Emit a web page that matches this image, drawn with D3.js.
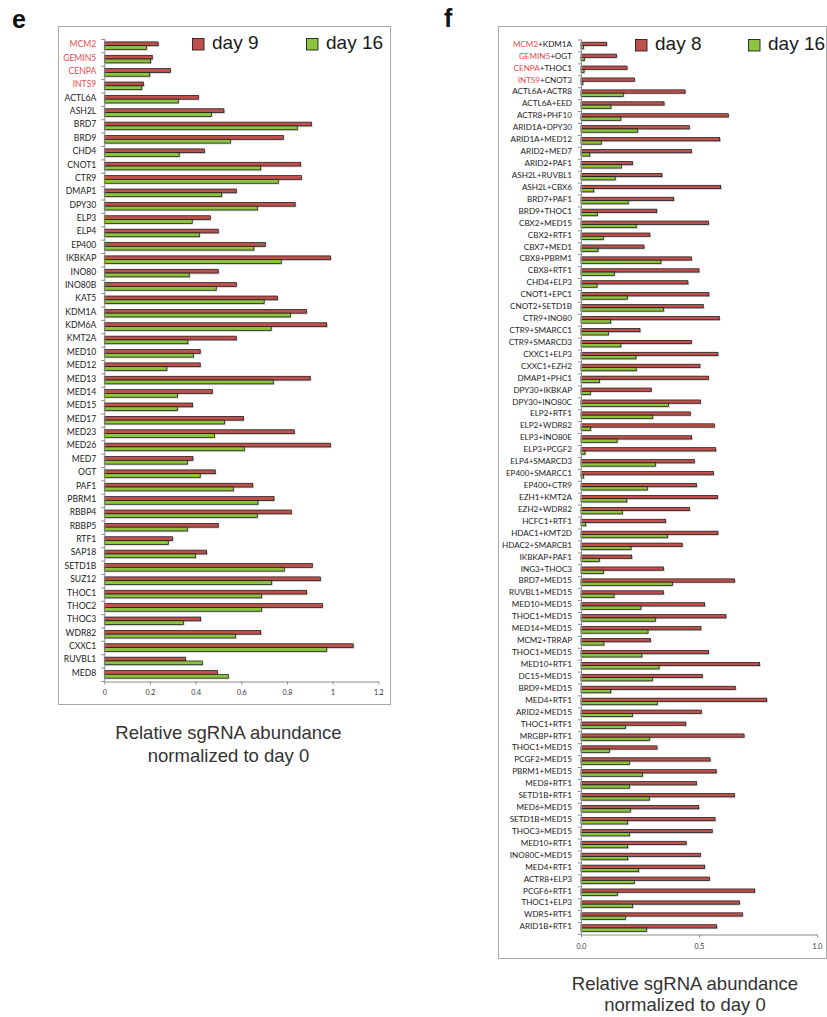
<!DOCTYPE html>
<html>
<head>
<meta charset="utf-8">
<script src="https://cdn.jsdelivr.net/npm/d3@7/dist/d3.min.js"></script>
<style>
  body { margin: 0; background: #fff; }
  svg { display: block; }
</style>
</head>
<body>
<svg id="chart" width="827" height="1017"></svg>
<script>
// ---- Panel e: single-gene knockouts ----
const eGenes = ["MCM2","GEMIN5","CENPA","INTS9","ACTL6A","ASH2L","BRD7","BRD9","CHD4","CNOT1","CTR9","DMAP1",
  "DPY30","ELP3","ELP4","EP400","IKBKAP","INO80","INO80B","KAT5","KDM1A","KDM6A","KMT2A","MED10","MED12",
  "MED13","MED14","MED15","MED17","MED23","MED26","MED7","OGT","PAF1","PBRM1","RBBP4","RBBP5","RTF1",
  "SAP18","SETD1B","SUZ12","THOC1","THOC2","THOC3","WDR82","CXXC1","RUVBL1","MED8"];
const eDay9 = [0.236,0.21,0.289,0.172,0.412,0.524,0.907,0.784,0.438,0.86,0.863,0.578,
  0.836,0.464,0.499,0.705,0.991,0.499,0.578,0.758,0.885,0.974,0.578,0.42,0.42,
  0.902,0.473,0.387,0.61,0.832,0.99,0.388,0.486,0.65,0.743,0.819,0.499,0.299,
  0.448,0.911,0.946,0.886,0.955,0.422,0.685,1.09,0.355,0.495];
const eDay16 = [0.185,0.203,0.199,0.164,0.324,0.469,0.845,0.552,0.328,0.685,0.762,0.514,
  0.67,0.385,0.416,0.655,0.775,0.372,0.49,0.70,0.815,0.731,0.366,0.39,0.274,
  0.74,0.32,0.32,0.526,0.482,0.613,0.364,0.42,0.565,0.673,0.67,0.364,0.28,
  0.399,0.788,0.733,0.689,0.688,0.346,0.574,0.974,0.429,0.543];
const eSeries = ["day 9", "day 16"];
const eTicks = [0, 0.2, 0.4, 0.6, 0.8, 1, 1.2];

// ---- Panel f: double-gene knockouts ----
const fPairs = ["MCM2+KDM1A","GEMIN5+OGT","CENPA+THOC1","INTS9+CNOT3","ACTL6A+ACTR8","ACTL6A+EED","ACTR8+PHF10",
  "ARID1A+DPY30","ARID1A+MED12","ARID2+MED7","ARID2+PAF1","ASH2L+RUVBL1",
  "ASH2L+CBX6","BRD7+PAF1","BRD9+THOC1","CBX2+MED15","CBX2+RTF1","CBX7+MED1","CBX8+PBRM1","CBX8+RTF1",
  "CHD4+ELP3","CNOT1+EPC1","CNOT2+SETD1B","CTR9+INO80","CTR9+SMARCC1","CTR9+SMARCD3",
  "CXXC1+ELP3","CXXC1+EZH2","DMAP1+PHC1","DPY30+IKBKAP","DPY30+INO80C","ELP2+RTF1","ELP2+WDR82",
  "ELP3+INO80E","ELP3+PCGF2","ELP4+SMARCD3","EP400+SMARCC1","EP400+CTR9","EZH1+KMT2A","EZH2+WDR82",
  "HCFC1+RTF1","HDAC1+KMT2D","HDAC2+SMARCB1","IKBKAP+PAF1","ING3+THOC3","BRD7+MED15","RUVBL1+MED15",
  "MED10+MED15","THOC1+MED15","MED14+MED15","MCM2+TRRAP","THOC1+MED15","MED10+RTF1","DC15+MED15",
  "BRD9+MED15","MED4+RTF1","ARID2+MED15","THOC1+RTF1","MRGBP+RTF1","THOC1+MED15","PCGF2+MED15",
  "PBRM1+MED15","MED8+RTF1","SETD1B+RTF1","MED6+MED15","SETD1B+MED15","THOC3+MED15","MED10+RTF1",
  "INO80C+MED15","MED4+RTF1","ACTR8+ELP3","PCGF6+RTF1","THOC1+ELP3","WDR5+RTF1","ARID1B+RTF1"];
const fDay8 = [0.109,0.15,0.195,0.226,0.441,0.352,0.624,0.459,0.588,0.468,0.218,0.343,
  0.592,0.393,0.321,0.54,0.292,0.267,0.468,0.5,0.453,0.542,0.518,0.586,0.25,0.468,
  0.58,0.504,0.54,0.298,0.506,0.463,0.565,0.469,0.571,0.48,0.561,0.489,0.579,0.46,
  0.359,0.58,0.429,0.215,0.35,0.651,0.349,0.524,0.614,0.508,0.294,0.54,0.757,0.514,
  0.654,0.787,0.51,0.444,0.691,0.322,0.547,0.573,0.489,0.65,0.499,0.568,0.556,0.446,
  0.506,0.524,0.544,0.736,0.672,0.684,0.575];
const fDay16 = [0.01,0.014,0.013,0.008,0.179,0.127,0.169,0.239,0.086,0.037,0.171,0.145,
  0.054,0.2,0.069,0.234,0.095,0.072,0.339,0.141,0.068,0.196,0.35,0.126,0.116,0.169,
  0.233,0.234,0.078,0.04,0.371,0.304,0.041,0.153,0.017,0.315,0.011,0.281,0.194,0.175,
  0.02,0.367,0.212,0.078,0.095,0.387,0.14,0.254,0.315,0.284,0.097,0.258,0.331,0.302,
  0.126,0.323,0.218,0.188,0.29,0.12,0.205,0.261,0.205,0.29,0.209,0.198,0.205,0.198,
  0.198,0.244,0.226,0.154,0.219,0.188,0.278];
const fSeries = ["day 8", "day 16"];
const fTicks = [0, 0.5, 1];

// Control genes, labelled in red (first rows of both panels)
const controlGenes = ["MCM2", "GEMIN5", "CENPA", "INTS9"];
const controlRows = controlGenes.length;

const COLORS = ["#c0504d", "#8cc43f"];
const HILITE = "#ea4a4f";
const LABEL_FONT = "Lato, 'Open Sans', sans-serif";
const TITLE_FONT = "'Liberation Sans', Arial, Helvetica, sans-serif";

const svg = d3.select("#chart");

function drawPanel(o) {
  const g = svg.append("g");

  // frame
  g.append("rect")
    .attr("x", o.box[0] + 0.5).attr("y", o.box[1] + 0.5)
    .attr("width", o.box[2] - o.box[0]).attr("height", o.box[3] - o.box[1])
    .attr("fill", "none").attr("stroke", "#a9a9a9").attr("stroke-width", 1);

  const x = d3.scaleLinear().domain([0, o.ticks[o.ticks.length - 1]]).range(o.xRange);
  const y = d3.scaleBand().domain(d3.range(o.labels.length)).range(o.yRange);
  const sub = d3.scaleBand().domain(o.series).range([0, 2 * o.barH]);
  const off = (y.bandwidth() - 2 * o.barH) / 2;
  const axisY = o.yRange[1];

  const rows = o.labels.map((l, i) => ({ i, vals: o.values.map(v => v[i]) }));

  // bars with a soft drop shadow
  const rowG = g.selectAll("g.row").data(rows).join("g")
    .attr("class", "row")
    .attr("transform", d => `translate(0,${y(d.i) + off})`);

  rowG.selectAll("rect.shadow")
    .data(d => d.vals.map((v, k) => ({ v, k })))
    .join("rect")
    .attr("class", "shadow")
    .attr("x", x(0) + 1.2)
    .attr("y", d => sub(o.series[d.k]) + 1.2)
    .attr("width", d => x(d.v) - x(0))
    .attr("height", sub.bandwidth())
    .attr("fill", "#9a9a9a").attr("opacity", 0.55);

  rowG.selectAll("rect.bar")
    .data(d => d.vals.map((v, k) => ({ v, k })))
    .join("rect")
    .attr("class", "bar")
    .attr("x", x(0))
    .attr("y", d => sub(o.series[d.k]))
    .attr("width", d => x(d.v) - x(0))
    .attr("height", sub.bandwidth())
    .attr("fill", d => COLORS[d.k])
    .attr("stroke", "#111").attr("stroke-width", 0.7);

  // category axis
  const yAxis = g.append("g")
    .attr("transform", `translate(${x(0)},0)`)
    .call(d3.axisLeft(y).tickSize(0).tickPadding(o.labelPad).tickFormat(i => o.labels[i]));
  yAxis.select(".domain").remove();
  yAxis.selectAll("text")
    .attr("y", -1.3)
    .attr("font-family", LABEL_FONT)
    .attr("font-size", o.labelSize)
    .attr("fill", "#222")
    .each(function (i) {
      if (i >= controlRows) return;
      const parts = o.labels[i].split("+");
      const t = d3.select(this).text(null);
      t.append("tspan").attr("fill", HILITE).text(parts[0]);
      if (parts.length > 1) t.append("tspan").text("+" + parts.slice(1).join("+"));
    });

  // axis spine with tick marks between categories
  g.append("line")
    .attr("x1", x(0) + 0.5).attr("x2", x(0) + 0.5)
    .attr("y1", o.yRange[0]).attr("y2", axisY)
    .attr("stroke", "#8c8c8c");
  g.selectAll("line.btick").data(d3.range(o.labels.length + 1)).join("line")
    .attr("class", "btick")
    .attr("x1", x(0) - 3).attr("x2", x(0) + 0.5)
    .attr("y1", d => o.yRange[0] + d * y.step() + 0.5)
    .attr("y2", d => o.yRange[0] + d * y.step() + 0.5)
    .attr("stroke", "#8c8c8c");

  // value axis
  const xAxis = g.append("g")
    .attr("transform", `translate(0,${axisY + 0.5})`)
    .call(d3.axisBottom(x).tickValues(o.ticks).tickSize(3).tickSizeOuter(0)
      .tickPadding(o.tickPad).tickFormat(o.tickFormat));
  xAxis.select(".domain").attr("stroke", "#8c8c8c");
  xAxis.selectAll(".tick line").attr("stroke", "#8c8c8c");
  xAxis.selectAll("text")
    .attr("font-family", LABEL_FONT).attr("font-size", 7).attr("fill", "#333");

  // legend
  o.series.forEach((s, k) => {
    const lx = o.legendX[k];
    g.append("rect")
      .attr("x", lx + 0.5).attr("y", o.legendY + 0.5)
      .attr("width", 11.5).attr("height", 11.5)
      .attr("fill", COLORS[k]).attr("stroke", "#222").attr("stroke-width", 0.9);
    g.append("text")
      .attr("x", lx + 20).attr("y", o.legendY + 11)
      .attr("font-family", TITLE_FONT).attr("font-size", 19).attr("fill", "#1a1a1a")
      .text(s);
  });

  // axis title below the frame
  const tt = g.append("text")
    .attr("text-anchor", "middle")
    .attr("font-family", TITLE_FONT).attr("font-size", 18.5).attr("fill", "#333");
  tt.append("tspan").attr("x", o.titleX).attr("y", o.titleY).text("Relative sgRNA abundance");
  tt.append("tspan").attr("x", o.titleX).attr("y", o.titleY + o.titleGap).text("normalized to day 0");

  // panel letter
  g.append("text")
    .attr("x", o.letterPos[0]).attr("y", o.letterPos[1])
    .attr("font-family", TITLE_FONT).attr("font-weight", "bold").attr("font-size", 25)
    .attr("fill", "#111").text(o.letter);
}

drawPanel({
  letter: "e", letterPos: [12, 28],
  box: [58, 26, 390, 704],
  labels: eGenes, values: [eDay9, eDay16], series: eSeries, ticks: eTicks,
  tickFormat: d3.format("~g"),
  xRange: [104.3, 378.3], yRange: [39, 681],
  barH: 3.8, labelPad: 8, labelSize: 8.6, tickPad: 5.5,
  legendX: [192, 306], legendY: 38,
  titleX: 228.5, titleY: 739, titleGap: 23
});

drawPanel({
  letter: "f", letterPos: [444, 27],
  box: [498, 26, 826, 958],
  labels: fPairs, values: [fDay8, fDay16], series: fSeries, ticks: fTicks,
  tickFormat: d3.format(".1f"),
  xRange: [581, 817], yRange: [39.5, 934],
  barH: 3.3, labelPad: 9, labelSize: 8.1, tickPad: 6.5,
  legendX: [635, 748], legendY: 39,
  titleX: 685, titleY: 990, titleGap: 21
});
</script>
</body>
</html>
